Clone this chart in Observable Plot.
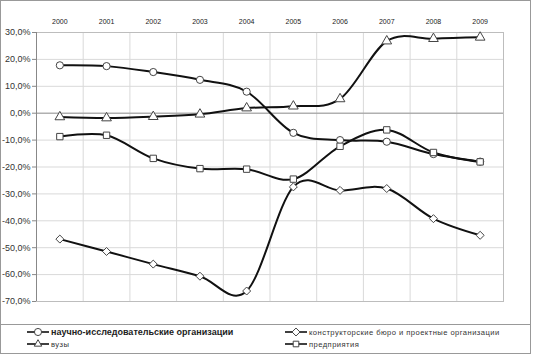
<!DOCTYPE html>
<html><head><meta charset="utf-8">
<script src="https://cdn.jsdelivr.net/npm/d3@7"></script>
<script src="https://cdn.jsdelivr.net/npm/@observablehq/plot@0.6"></script>
<style>
body{margin:0;background:#fff;font-family:Arial,"Liberation Sans",sans-serif;}
#wrap{position:absolute;left:0;top:0;width:529px;border:1px solid #999;background:#fff;}
#legend{position:relative;height:28px;border-top:1px solid #999;}
.item{position:absolute;display:flex;align-items:center;height:12px;white-space:nowrap;color:#222;}
.item svg{display:block;margin-right:2px;}
.small{font-size:7.6px;letter-spacing:0.45px;color:#333;}
.big{font-size:9px;font-weight:bold;}
</style></head>
<body><div id="wrap"><div id="chart"></div><div id="legend"></div></div>
<script>
const years = [2000, 2001, 2002, 2003, 2004, 2005, 2006, 2007, 2008, 2009];
const nii  = [17.8, 17.5, 15.3, 12.4, 8.0, -7.3, -10.0, -10.6, -15.2, -18.0];
const kb   = [-46.8, -51.4, -56.1, -60.6, -66.1, -27.4, -28.7, -28.0, -39.2, -45.4];
const vuz  = [-1.4, -1.8, -1.3, -0.4, 1.9, 2.6, 5.3, 26.8, 27.7, 28.2];
const pred = [-8.7, -8.2, -16.8, -20.6, -20.8, -24.5, -12.3, -6.2, -14.6, -18.1];
const seriesNames = ["научно-исследовательские организации", "конструкторские бюро и проектные организации", "вузы", "предприятия"];
const symbols = ["circle", "diamond2", "triangle", "square"];
const yTicks = [30, 20, 10, 0, -10, -20, -30, -40, -50, -60, -70];

const seriesValues = [nii, kb, vuz, pred];
const data = [];
seriesValues.forEach((vals, i) => vals.forEach((v, j) => data.push({series: seriesNames[i], sym: symbols[i], year: years[j], value: v})));
const bounds = years.map(y => y - 0.5).concat([years[years.length - 1] + 0.5]);
const fmt = d => d.toFixed(1).replace(".", ",") + "%";

const chart = Plot.plot({
  width: 529, height: 323,
  marginLeft: 35, marginRight: 27, marginTop: 31, marginBottom: 23,
  style: {fontFamily: "Arial, 'Liberation Sans', sans-serif", background: "#fff"},
  x: {domain: [bounds[0], bounds[bounds.length - 1]], axis: null, label: null},
  y: {domain: [-70, 30], axis: null, label: null},
  symbol: {domain: symbols, range: symbols},
  marks: [
    Plot.ruleX(bounds.slice(1, -1), {stroke: "#d9d9d9", strokeWidth: 1}),
    Plot.ruleY(yTicks, {stroke: "#d9d9d9", strokeWidth: 1}),
    Plot.frame({stroke: "#bdbdbd"}),
    Plot.ruleY([0], {stroke: "#999"}),
    Plot.ruleX([bounds[0]], {stroke: "#888"}),
    Plot.axisY({ticks: yTicks, tickFormat: fmt, tickSize: 4, tickPadding: 2, fontSize: 9, stroke: "#888", fill: "#333", anchor: "left", label: null}),
    Plot.axisX({anchor: "top", ticks: years, tickFormat: d => String(d), tickSize: 0, tickPadding: 9, fontSize: 7, fill: "#222", label: null}),
    Plot.line(data, {x: "year", y: "value", z: "series", stroke: "#111", strokeWidth: 2, curve: "cardinal"}),
    Plot.dot(data, {x: "year", y: "value", symbol: "sym", r: 3.6, fill: "#fff", stroke: "#444", strokeWidth: 1})
  ]
});
document.getElementById("chart").appendChild(chart);

// Legend
const symPath = {
  circle: d3.symbol(d3.symbolCircle, 40)(),
  diamond2: d3.symbol(d3.symbolDiamond2, 40)(),
  triangle: d3.symbol(d3.symbolTriangle2, 40)(),
  square: d3.symbol(d3.symbolSquare2, 40)()
};
const legendPos = [
  {left: 26, top: 1, cls: "big"},
  {left: 284, top: 1, cls: "small"},
  {left: 26, top: 13, cls: "small"},
  {left: 284, top: 13, cls: "small"}
];
const legend = document.getElementById("legend");
seriesNames.forEach((name, i) => {
  const p = legendPos[i];
  const div = document.createElement("div");
  div.className = "item " + p.cls;
  div.style.left = p.left + "px";
  div.style.top = p.top + "px";
  div.innerHTML = `<svg width="22" height="12"><line x1="0" x2="22" y1="6" y2="6" stroke="#111" stroke-width="1.6"/><path transform="translate(11,6)" d="${symPath[symbols[i]]}" fill="#fff" stroke="#444"/></svg><span>${name}</span>`;
  legend.appendChild(div);
});
</script></body></html>
